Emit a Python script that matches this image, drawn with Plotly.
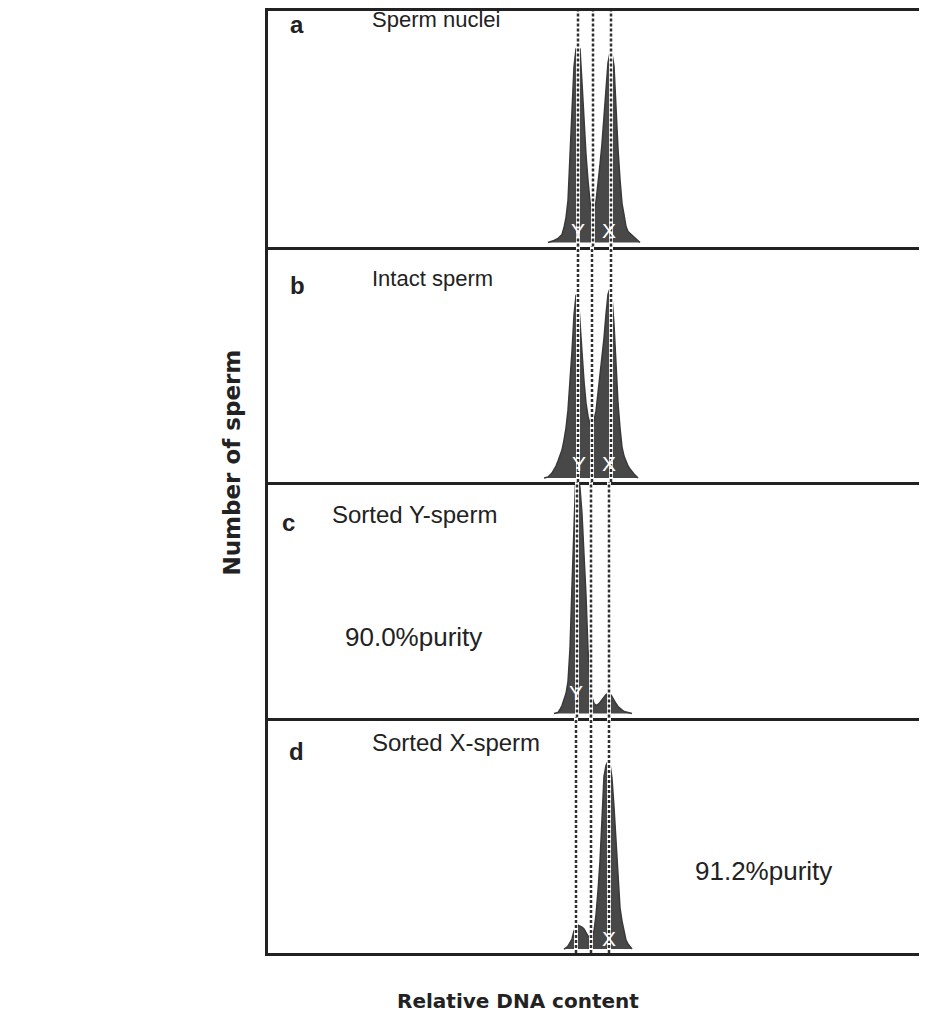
import plotly.graph_objects as go
from plotly.subplots import make_subplots

# ---- data: relative DNA content (channel) and sperm counts per panel ----
channels_a = [140, 142, 143, 144, 145, 146, 147, 148, 149, 150, 151, 152, 153, 154, 155, 156, 157, 158, 159, 160,
              161, 162, 163, 164, 165, 166, 167, 168, 169, 170, 171, 172, 173, 174, 175, 176, 177, 178, 179, 180,
              182, 184, 186]
counts_a = [0, 1, 2, 3, 4, 6, 8, 15, 25, 42, 80, 132, 176, 194, 197, 194, 160, 122, 88, 62,
            41, 29, 32, 41, 58, 78, 99, 124, 154, 180, 190, 189, 177, 126, 94, 63, 39, 28, 16, 11,
            7, 3, 0]

channels_b = [138, 140, 142, 143, 144, 145, 146, 147, 148, 149, 150, 151, 152, 153, 154, 155, 156, 157, 158, 159,
              160, 161, 162, 163, 164, 165, 166, 167, 168, 169, 170, 171, 172, 173, 174, 175, 176, 177, 178, 179,
              180, 181, 182, 183, 184, 185]
counts_b = [0, 1, 5, 8, 12, 17, 22, 28, 38, 50, 68, 94, 127, 163, 183, 186, 160, 126, 97, 75,
            62, 54, 52, 58, 67, 85, 104, 122, 140, 164, 184, 190, 181, 154, 106, 75, 50, 31, 22, 16,
            12, 9, 6, 4, 2, 0]

channels_c = [143, 145, 146, 147, 148, 149, 150, 151, 152, 153, 154, 155, 156, 157, 158, 159, 160, 161, 162, 163,
              164, 165, 166, 167, 168, 169, 170, 171, 172, 173, 174, 175, 176, 177, 178, 180, 182]
counts_c = [0, 1, 4, 8, 14, 20, 32, 65, 128, 192, 245, 240, 226, 200, 162, 118, 64, 30, 16, 10,
            8, 9, 11, 14, 17, 19, 20, 20, 17, 13, 10, 7, 5, 3, 2, 1, 0]

channels_d = [148, 149, 150, 151, 152, 153, 154, 155, 156, 157, 158, 159, 160, 161, 162, 163, 164, 165, 166, 167,
              168, 169, 170, 171, 172, 173, 174, 175, 176, 177, 178, 179, 180, 181, 182]
counts_d = [0, 1, 3, 6, 10, 18, 22, 24, 23, 22, 20, 16, 13, 12, 12, 18, 34, 58, 88, 130,
            173, 184, 188, 185, 171, 142, 110, 70, 41, 28, 17, 9, 5, 2, 0]

# sort gate positions (Y gate, boundary, X gate) per panel
gates_a = [155, 162.5, 171.5]
gates_b = [155, 162, 171.5]
gates_c = [154.5, 161.5, 170.5]
gates_d = [154, 161.5, 170.5]

panel_letters = ["a", "b", "c", "d"]
panel_titles = ["Sperm nuclei", "Intact sperm", "Sorted Y-sperm", "Sorted X-sperm"]
purity_labels = ["90.0%purity", "91.2%purity"]
peak_labels = [[("Y", 155), ("X", 170.5)], [("Y", 155.3), ("X", 170.5)], [("Y", 154), None], [None, ("X", 170.5)]]

channels = [channels_a, channels_b, channels_c, channels_d]
counts = [counts_a, counts_b, counts_c, counts_d]
gates = [gates_a, gates_b, gates_c, gates_d]

# page offset from the default body margin of the html page
OFF = 8
W, H = 911, 1009
ML, MR, MT, MB = 260, 0, 0, 64
PW = W - ML - MR
PH = H - MT - MB

fig = make_subplots(rows=4, cols=1, shared_xaxes=True, vertical_spacing=0)

FILL = "#484848"
INK = "#222222"

for i in range(4):
    fig.add_trace(go.Scatter(x=channels[i], y=counts[i], mode="lines", fill="tozeroy",
                             line=dict(color="#3a3a3a", width=1.5), fillcolor=FILL,
                             showlegend=False, hoverinfo="skip"), row=i + 1, col=1)

fig.update_xaxes(range=[0, PW / 2], showticklabels=False, ticks="", showgrid=False, zeroline=False,
                 showline=True, mirror=False, linecolor=INK, linewidth=2.5)
fig.update_xaxes(mirror=True, row=1, col=1)
fig.update_yaxes(range=[-4, 232], showticklabels=False, ticks="", showgrid=False, zeroline=False,
                 showline=True, mirror=False, linecolor=INK, linewidth=2.5)

shapes = []
for i in range(4):
    xr = "x" if i == 0 else f"x{i + 1}"
    yr = ("y" if i == 0 else f"y{i + 1}") + " domain"
    for g in gates[i]:
        shapes.append(dict(type="line", xref=xr, yref=yr, x0=g, x1=g, y0=0, y1=1,
                           line=dict(color="white", width=4), layer="above"))
        shapes.append(dict(type="line", xref=xr, yref=yr, x0=g, x1=g, y0=0, y1=1,
                           line=dict(color="#303030", width=2.5, dash="3px,2px"), layer="above"))


def px(xp):
    return (xp - OFF - ML) / PW


def py(yp):
    return (H - MB - (yp - OFF)) / PH


FONT = "Liberation Sans, Arial, sans-serif"
annotations = []
letter_pos = [(297, 22), (297, 283), (288, 521), (296, 751)]
title_pos = [(370, 17), (370, 276), (330, 513), (370, 742)]
title_sizes = [22, 22, 24, 24]
for i in range(4):
    lx, ly = letter_pos[i]
    annotations.append(dict(text=f"<b>{panel_letters[i]}</b>", x=px(lx), y=py(ly), xref="paper", yref="paper",
                            showarrow=False, xanchor="center", yanchor="middle",
                            font=dict(family=FONT, size=24, color="#222")))
    tx, ty = title_pos[i]
    annotations.append(dict(text=panel_titles[i], x=px(tx), y=py(ty), xref="paper", yref="paper",
                            showarrow=False, xanchor="left", yanchor="middle",
                            font=dict(family=FONT, size=title_sizes[i], color="#222")))

annotations.append(dict(text=purity_labels[0], x=px(413), y=py(636), xref="paper", yref="paper",
                        showarrow=False, xanchor="center", yanchor="middle",
                        font=dict(family=FONT, size=26, color="#222")))
annotations.append(dict(text=purity_labels[1], x=px(763), y=py(871), xref="paper", yref="paper",
                        showarrow=False, xanchor="center", yanchor="middle",
                        font=dict(family=FONT, size=26, color="#222")))

label_y = [228, 462, 692, 938]
for i in range(4):
    xr = "x" if i == 0 else f"x{i + 1}"
    for lab in peak_labels[i]:
        if lab is None:
            continue
        annotations.append(dict(text=lab[0], x=lab[1], y=py(label_y[i]), xref=xr, yref="paper",
                                showarrow=False, xanchor="center", yanchor="middle",
                                font=dict(family=FONT, size=21, color="white")))

annotations.append(dict(text="<b>Number of sperm</b>", x=px(232), y=py(461), xref="paper", yref="paper",
                        showarrow=False, textangle=-90, xanchor="center", yanchor="middle",
                        font=dict(family="DejaVu Sans, sans-serif", size=23, color="#222")))
annotations.append(dict(text="<b>Relative DNA content</b>", x=px(518), y=py(1001), xref="paper", yref="paper",
                        showarrow=False, xanchor="center", yanchor="middle",
                        font=dict(family="DejaVu Sans, sans-serif", size=20, color="#222")))

fig.update_layout(width=W, height=H, margin=dict(l=ML, r=MR, t=MT, b=MB, pad=0),
                  plot_bgcolor="white", paper_bgcolor="white", shapes=shapes, annotations=annotations,
                  showlegend=False)

fig.write_html("out.html")
